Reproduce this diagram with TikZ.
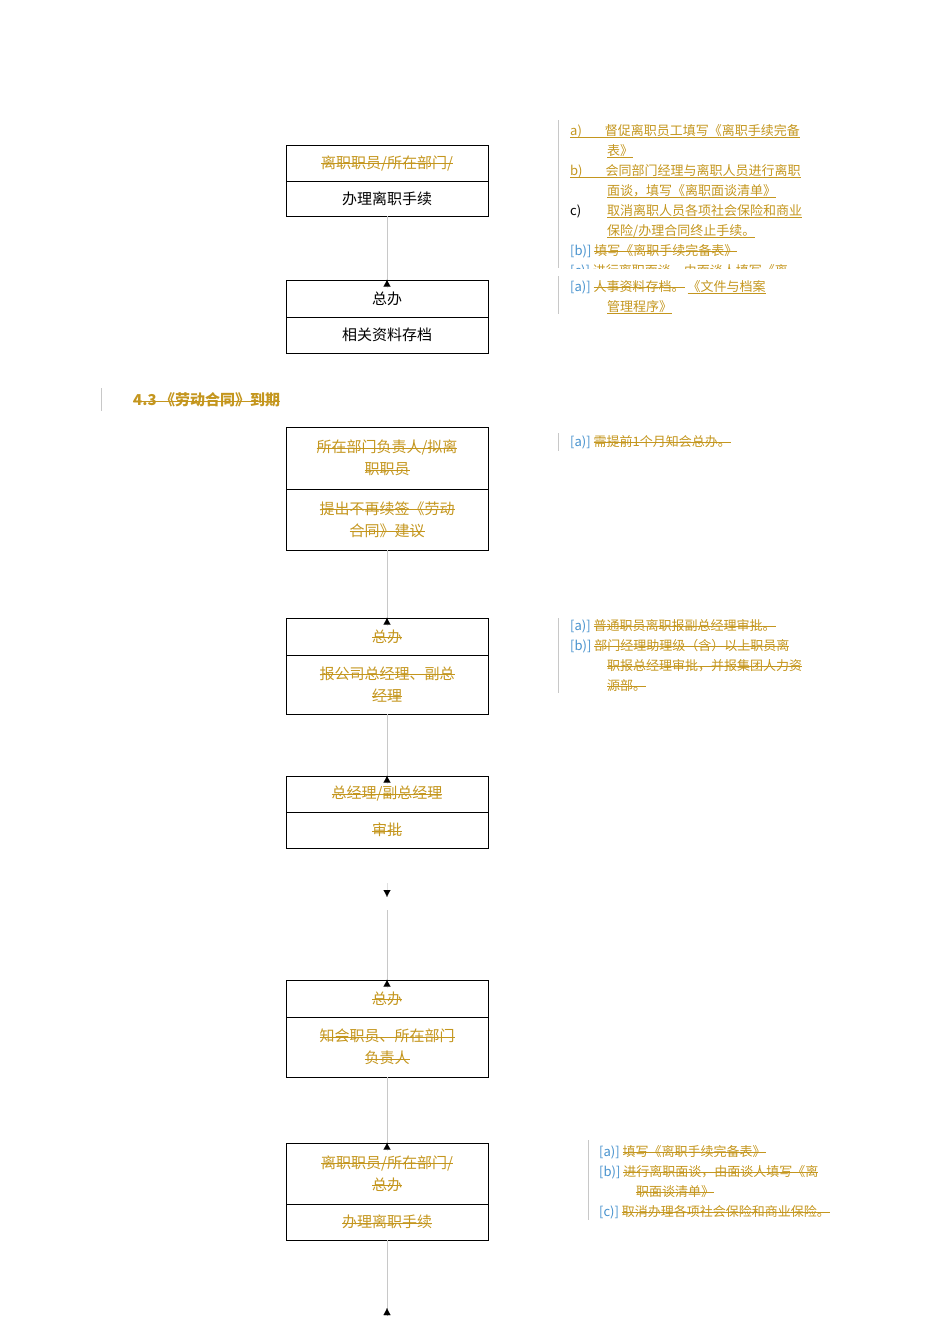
\documentclass[tikz,border=0pt]{standalone}
\usepackage{fontspec}
\setmainfont{Liberation Serif}
\newfontfamily\cjk{Noto Sans CJK SC}
\usetikzlibrary{arrows.meta}
\definecolor{gold}{RGB}{196,150,30}
\definecolor{cblue}{RGB}{70,145,205}
\definecolor{bar}{RGB}{200,200,200}
\newsavebox\tbx
\newcommand{\st}[1]{{\color{gold}\sbox\tbx{#1}\rlap{\usebox\tbx}\rule[0.3em]{\wd\tbx}{0.6pt}}}
\newcommand{\ul}[1]{{\color{gold}\sbox\tbx{#1}\rlap{\usebox\tbx}\rule[-0.2em]{\wd\tbx}{0.6pt}}}
\newcommand{\lb}[1]{{\color{cblue}[#1)]}}
\begin{document}
\begin{tikzpicture}[x=1pt,y=-1pt,
  box/.style={draw,line width=0.8pt,minimum width=202pt,inner sep=0pt,font=\cjk\fontsize{15}{22}\selectfont,align=center},
  ann/.style={anchor=west,inner sep=0pt,font=\cjk\fontsize{13}{20}\selectfont},
  conn/.style={draw=bar,line width=0.6pt},
  tip/.style={-{Latex[length=7pt,width=7pt]},black,line width=0.01pt},
  barl/.style={draw=bar,line width=0.8pt}]
\useasboundingbox (0,0) rectangle (950,1344);
% boxes
\node[box,minimum height=36] (b1t) at (387,163) {\st{离职职员/所在部门/}};
\node[box,minimum height=35] (b1b) at (387,198.5) {办理离职手续};
\node[box,minimum height=37] (b2t) at (387,298.5) {总办};
\node[box,minimum height=36] (b2b) at (387,335) {相关资料存档};
\node[box,minimum height=62] (b3t) at (387,458) {\st{所在部门负责人/拟离}\\\st{职职员}};
\node[box,minimum height=61] (b3b) at (387,519.5) {\st{提出不再续签《劳动}\\\st{合同》建议}};
\node[box,minimum height=37] (b4t) at (387,636.5) {\st{总办}};
\node[box,minimum height=59] (b4b) at (387,684.5) {\st{报公司总经理、副总}\\\st{经理}};
\node[box,minimum height=36] (b5t) at (387,794) {\st{总经理/副总经理}};
\node[box,minimum height=36] (b5b) at (387,830) {\st{审批}};
\node[box,minimum height=37] (b6t) at (387,998.5) {\st{总办}};
\node[box,minimum height=60] (b6b) at (387,1047) {\st{知会职员、所在部门}\\\st{负责人}};
\node[box,minimum height=61] (b7t) at (387,1173.5) {\st{离职职员/所在部门/}\\\st{总办}};
\node[box,minimum height=36] (b7b) at (387,1222) {\st{办理离职手续}};
% connectors
\coordinate (a1) at (387,897); \coordinate (a2) at (387,910);
\coordinate (a3) at (387,1308); \coordinate (a4) at (387,883);
\draw[conn] (b1b.south) -- (b2t.north);
\draw[tip] ([yshift=-8pt]b2t.north) -- (b2t.north);
\draw[conn] (b3b.south) -- (b4t.north);
\draw[tip] ([yshift=-8pt]b4t.north) -- (b4t.north);
\draw[conn] (b4b.south) -- (b5t.north);
\draw[tip] ([yshift=-8pt]b5t.north) -- (b5t.north);
\draw[tip] (a4) -- (a1);
\draw[conn] (a2) -- (b6t.north);
\draw[tip] ([yshift=-8pt]b6t.north) -- (b6t.north);
\draw[conn] (b6b.south) -- (b7t.north);
\draw[tip] ([yshift=-8pt]b7t.north) -- (b7t.north);
\draw[conn] (b7b.south) -- ([yshift=-8pt]a3);
\draw[tip] ([yshift=-8pt]a3) -- (a3);
% heading
\draw[barl] (101,388) -- (101,411);
\node[ann,font=\cjk\bfseries\fontsize{15}{20}\selectfont] (h) at (133,400) {\st{4.3 《劳动合同》到期}};
% annotations block 1
\draw[barl] (558,120) -- (558,268);
\draw[barl] (558,276) -- (558,314);
\node[ann] (t1) at (570,131) {\ul{a)\hspace*{23pt}督促离职员工填写《离职手续完备}};
\node[ann] (t2) at (607,151) {\ul{表》}};
\node[ann] (t3) at (570,171) {\ul{b)\hspace*{23pt}会同部门经理与离职人员进行离职}};
\node[ann] (t4) at (607,191) {\ul{面谈，填写《离职面谈清单》}};
\node[ann] (t5) at (570,211) {c)};
\node[ann] (t6) at (607,211) {\ul{取消离职人员各项社会保险和商业}};
\node[ann] (t7) at (607,231) {\ul{保险/办理合同终止手续。}};
\node[ann] (t8) at (570,251) {\lb{b}\ \st{填写《离职手续完备表》}};
\begin{scope}
\clip (560,262) rectangle (900,268);
\node[ann] (t9) at (570,271) {\lb{c}\ \st{进行离职面谈，由面谈人填写《离}};
\end{scope}
\node[ann] (t10) at (570,287) {\lb{a}\ \st{人事资料存档。}\ \ul{《文件与档案}};
\node[ann] (t11) at (607,307) {\ul{管理程序》}};
% block 2
\draw[barl] (558,433) -- (558,451);
\node[ann] (u1) at (570,442) {\lb{a}\ \st{需提前1个月知会总办。}};
% block 3
\draw[barl] (558,618) -- (558,693);
\node[ann] (v1) at (570,626) {\lb{a}\ \st{普通职员离职报副总经理审批。}};
\node[ann] (v2) at (570,646) {\lb{b}\ \st{部门经理助理级（含）以上职员离}};
\node[ann] (v3) at (607,666) {\st{职报总经理审批，并报集团人力资}};
\node[ann] (v4) at (607,686) {\st{源部。}};
% block 4
\draw[barl] (588,1140) -- (588,1220);
\node[ann] (w1) at (599,1152) {\lb{a}\ \st{填写《离职手续完备表》}};
\node[ann] (w2) at (599,1172) {\lb{b}\ \st{进行离职面谈，由面谈人填写《离}};
\node[ann] (w3) at (636,1192) {\st{职面谈清单》}};
\node[ann] (w4) at (599,1212) {\lb{c}\ \st{取消办理各项社会保险和商业保险。}};
\end{tikzpicture}
\end{document}
